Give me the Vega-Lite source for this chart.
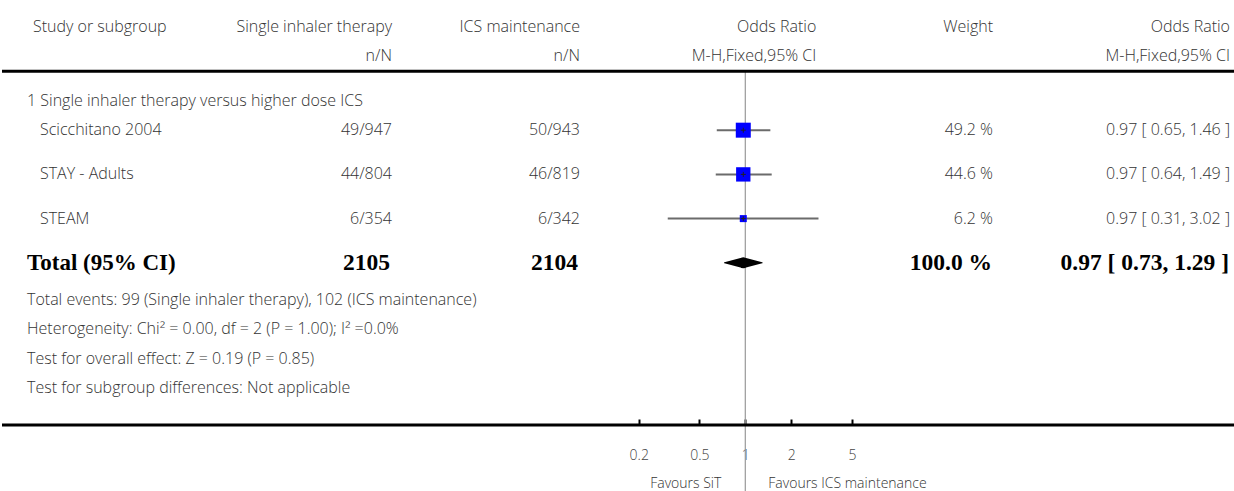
{
  "$schema": "https://vega.github.io/schema/vega-lite/v6.json",
  "padding": 0,
  "background": "white",
  "spacing": 0,
  "bounds": "flush",
  "config": {
    "view": {"stroke": null},
    "text": {"font": "Open Sans", "fontSize": 16, "fontWeight": 300, "color": "#333"},
    "concat": {"spacing": 0}
  },
  "datasets": {
    "studies": [
      {"row": "sc", "study": "Scicchitano 2004", "e1": 49, "n1": 947, "e2": 50, "n2": 943, "weight": 49.2, "est": 0.97, "lo": 0.65, "hi": 1.46},
      {"row": "stay", "study": "STAY - Adults", "e1": 44, "n1": 804, "e2": 46, "n2": 819, "weight": 44.6, "est": 0.97, "lo": 0.64, "hi": 1.49},
      {"row": "steam", "study": "STEAM", "e1": 6, "n1": 354, "e2": 6, "n2": 342, "weight": 6.2, "est": 0.97, "lo": 0.31, "hi": 3.02}
    ],
    "total": [
      {"row": "total", "label": "Total (95% CI)", "n1": 2105, "n2": 2104, "weight": 100.0, "est": 0.97, "lo": 0.73, "hi": 1.29}
    ],
    "headers": [
      {"col": "study", "row": "h1", "text": "Study or subgroup"},
      {"col": "sit", "row": "h1", "text": "Single inhaler therapy"},
      {"col": "sit", "row": "h2", "text": "n/N"},
      {"col": "ics", "row": "h1", "text": "ICS maintenance"},
      {"col": "ics", "row": "h2", "text": "n/N"},
      {"col": "plot", "row": "h1", "text": "Odds Ratio"},
      {"col": "plot", "row": "h2", "text": "M-H,Fixed,95% CI"},
      {"col": "weight", "row": "h1", "text": "Weight"},
      {"col": "or", "row": "h1", "text": "Odds Ratio"},
      {"col": "or", "row": "h2", "text": "M-H,Fixed,95% CI"}
    ],
    "notes": [
      {"row": "sub", "text": "1 Single inhaler therapy versus higher dose ICS"},
      {"row": "f1", "text": "Total events: 99 (Single inhaler therapy), 102 (ICS maintenance)"},
      {"row": "f2", "text": "Heterogeneity: Chi² = 0.00, df = 2 (P = 1.00); I² =0.0%"},
      {"row": "f3", "text": "Test for overall effect: Z = 0.19 (P = 0.85)"},
      {"row": "f4", "text": "Test for subgroup differences: Not applicable"}
    ],
    "lines": [{"row": "hline"}, {"row": "axis"}],
    "favours": [
      {"row": "fav", "side": "left", "text": "Favours SiT"},
      {"row": "fav", "side": "right", "text": "Favours ICS maintenance"}
    ]
  },
  "hconcat": [
    {
      "width": 210,
      "height": 491,
      "encoding": {"y": {"field": "row", "type": "nominal", "axis": null, "scale": {"type": "point", "round": false, "padding": 0.81, "align": 0.409, "domain": ["t1","t2","t3","h1","g1","g2","g3","h2","g5","hline","g7","g8","g9","sub","g11","g12","g13","sc","g15","g16","g17","g18","g19","stay","g21","g22","g23","g24","g25","steam","g27","g28","g29","g30","g31","total","g33","g34","g35","g36","f1","g38","g39","g40","f2","g42","g43","g44","f3","g46","g47","g48","f4","g50","g51","g52","g53","axis","g55","g56","g57","ticks","g59","g60","g61","fav"]}}},
      "layer": [
        {"data": {"name": "lines"}, "mark": {"type": "rule", "color": "black", "strokeWidth": 3}},
        {"data": {"name": "headers"}, "transform": [{"filter": "datum.col === 'study'"}], "mark": {"type": "text", "align": "left", "dx": 31},
         "encoding": {"x": {"datum": 0, "type": "quantitative", "scale": {"domain": [0, 1]}, "axis": null}, "text": {"field": "text"}}},
        {"data": {"name": "notes"}, "mark": {"type": "text", "align": "left", "dx": 25},
         "encoding": {"x": {"datum": 0, "type": "quantitative", "scale": {"domain": [0, 1]}, "axis": null}, "text": {"field": "text"}}},
        {"data": {"name": "studies"}, "mark": {"type": "text", "align": "left", "dx": 38},
         "encoding": {"x": {"datum": 0, "type": "quantitative", "scale": {"domain": [0, 1]}, "axis": null}, "text": {"field": "study"}}},
        {"data": {"name": "total"}, "mark": {"type": "text", "align": "left", "dx": 25, "font": "Liberation Serif", "fontWeight": "bold", "fontSize": 23, "color": "#000"},
         "encoding": {"x": {"datum": 0, "type": "quantitative", "scale": {"domain": [0, 1]}, "axis": null}, "text": {"field": "label"}}}
      ]
    },
    {
      "width": 180,
      "height": 491,
      "encoding": {"y": {"field": "row", "type": "nominal", "axis": null, "scale": {"type": "point", "round": false, "padding": 0.81, "align": 0.409, "domain": ["t1","t2","t3","h1","g1","g2","g3","h2","g5","hline","g7","g8","g9","sub","g11","g12","g13","sc","g15","g16","g17","g18","g19","stay","g21","g22","g23","g24","g25","steam","g27","g28","g29","g30","g31","total","g33","g34","g35","g36","f1","g38","g39","g40","f2","g42","g43","g44","f3","g46","g47","g48","f4","g50","g51","g52","g53","axis","g55","g56","g57","ticks","g59","g60","g61","fav"]}}},
      "layer": [
        {"data": {"name": "lines"}, "mark": {"type": "rule", "color": "black", "strokeWidth": 3}},
        {"data": {"name": "headers"}, "transform": [{"filter": "datum.col === 'sit'"}], "mark": {"type": "text", "align": "right"},
         "encoding": {"x": {"datum": 1, "type": "quantitative", "scale": {"domain": [0, 1]}, "axis": null}, "text": {"field": "text"}}},
        {"data": {"name": "studies"}, "transform": [{"calculate": "datum.e1 + '/' + datum.n1", "as": "nn"}], "mark": {"type": "text", "align": "right"},
         "encoding": {"x": {"datum": 1, "type": "quantitative", "scale": {"domain": [0, 1]}, "axis": null}, "text": {"field": "nn"}}},
        {"data": {"name": "total"}, "mark": {"type": "text", "align": "right", "dx": -2, "font": "Liberation Serif", "fontWeight": "bold", "fontSize": 23.5, "color": "#000"},
         "encoding": {"x": {"datum": 1, "type": "quantitative", "scale": {"domain": [0, 1]}, "axis": null}, "text": {"field": "n1"}}}
      ]
    },
    {
      "width": 188,
      "height": 491,
      "encoding": {"y": {"field": "row", "type": "nominal", "axis": null, "scale": {"type": "point", "round": false, "padding": 0.81, "align": 0.409, "domain": ["t1","t2","t3","h1","g1","g2","g3","h2","g5","hline","g7","g8","g9","sub","g11","g12","g13","sc","g15","g16","g17","g18","g19","stay","g21","g22","g23","g24","g25","steam","g27","g28","g29","g30","g31","total","g33","g34","g35","g36","f1","g38","g39","g40","f2","g42","g43","g44","f3","g46","g47","g48","f4","g50","g51","g52","g53","axis","g55","g56","g57","ticks","g59","g60","g61","fav"]}}},
      "layer": [
        {"data": {"name": "lines"}, "mark": {"type": "rule", "color": "black", "strokeWidth": 3}},
        {"data": {"name": "headers"}, "transform": [{"filter": "datum.col === 'ics'"}], "mark": {"type": "text", "align": "right"},
         "encoding": {"x": {"datum": 1, "type": "quantitative", "scale": {"domain": [0, 1]}, "axis": null}, "text": {"field": "text"}}},
        {"data": {"name": "studies"}, "transform": [{"calculate": "datum.e2 + '/' + datum.n2", "as": "nn"}], "mark": {"type": "text", "align": "right"},
         "encoding": {"x": {"datum": 1, "type": "quantitative", "scale": {"domain": [0, 1]}, "axis": null}, "text": {"field": "nn"}}},
        {"data": {"name": "total"}, "mark": {"type": "text", "align": "right", "dx": -2, "font": "Liberation Serif", "fontWeight": "bold", "fontSize": 23.5, "color": "#000"},
         "encoding": {"x": {"datum": 1, "type": "quantitative", "scale": {"domain": [0, 1]}, "axis": null}, "text": {"field": "n2"}}}
      ]
    },
    {
      "width": 331,
      "height": 491,
      "encoding": {"y": {"field": "row", "type": "nominal", "axis": null, "scale": {"type": "point", "round": false, "padding": 0.81, "align": 0.409, "domain": ["t1","t2","t3","h1","g1","g2","g3","h2","g5","hline","g7","g8","g9","sub","g11","g12","g13","sc","g15","g16","g17","g18","g19","stay","g21","g22","g23","g24","g25","steam","g27","g28","g29","g30","g31","total","g33","g34","g35","g36","f1","g38","g39","g40","f2","g42","g43","g44","f3","g46","g47","g48","f4","g50","g51","g52","g53","axis","g55","g56","g57","ticks","g59","g60","g61","fav"]}}},
      "layer": [
        {"data": {"name": "studies"}, "mark": {"type": "rule", "color": "#6b6b6b", "strokeWidth": 2},
         "encoding": {
           "x": {"field": "lo", "type": "quantitative", "scale": {"type": "log", "domain": [0.0824, 12.21]},
                 "axis": {"orient": "bottom", "offset": -66, "values": [0.2, 0.5, 1, 2, 5], "format": "~g", "title": null, "domain": false, "grid": false,
                          "ticks": true, "tickColor": "#000", "tickWidth": 2, "tickSize": -6, "labelFont": "Open Sans", "labelFontSize": 14, "labelFontWeight": 300,
                          "labelColor": "#444", "labelPadding": 29, "labelFlush": false, "labelOverlap": false}},
           "x2": {"field": "hi"}}},
        {"data": {"name": "lines"}, "transform": [{"filter": "datum.row === 'hline'"}], "mark": {"type": "rule", "color": "#999", "strokeWidth": 1.2},
         "encoding": {"x": {"datum": 1, "type": "quantitative", "scale": {"type": "log", "domain": [0.0824, 12.21]}}, "y2": {"value": "height"}}},
        {"data": {"name": "lines"}, "mark": {"type": "rule", "color": "black", "strokeWidth": 3}},
        {"data": {"name": "studies"}, "mark": {"type": "point", "shape": "square", "filled": true, "color": "#0000ff", "opacity": 1, "strokeWidth": 0},
         "encoding": {
           "x": {"field": "est", "type": "quantitative", "scale": {"type": "log", "domain": [0.0824, 12.21]}},
           "size": {"field": "weight", "type": "quantitative", "scale": {"domain": [0, 50], "range": [24, 228]}, "legend": null}}},
        {"data": {"name": "studies"}, "mark": {"type": "point", "shape": "M-1,0H1M0,-1V1", "filled": false, "stroke": "#222", "strokeWidth": 1, "opacity": 1, "size": 25},
         "encoding": {"x": {"field": "est", "type": "quantitative", "scale": {"type": "log", "domain": [0.0824, 12.21]}}}},
        {"data": {"name": "total"}, "transform": [{"fold": ["lo", "est", "hi"], "as": ["part", "val"]}], "mark": {"type": "trail", "color": "black"},
         "encoding": {
           "x": {"field": "val", "type": "quantitative", "scale": {"type": "log", "domain": [0.0824, 12.21]}},
           "order": {"field": "val", "type": "quantitative"},
           "size": {"field": "part", "type": "ordinal", "scale": {"type": "ordinal", "domain": ["lo", "est", "hi"], "range": [0, 11, 0]}, "legend": null}}},
        {"data": {"name": "headers"}, "transform": [{"filter": "datum.col === 'plot'"}], "mark": {"type": "text", "align": "right", "dx": 71},
         "encoding": {"x": {"datum": 1, "type": "quantitative", "scale": {"type": "log", "domain": [0.0824, 12.21]}}, "text": {"field": "text"}}},
        {"data": {"name": "favours"}, "transform": [{"filter": "datum.side === 'left'"}], "mark": {"type": "text", "align": "right", "dx": -24, "fontSize": 14},
         "encoding": {"x": {"datum": 1, "type": "quantitative", "scale": {"type": "log", "domain": [0.0824, 12.21]}}, "text": {"field": "text"}}},
        {"data": {"name": "favours"}, "transform": [{"filter": "datum.side === 'right'"}], "mark": {"type": "text", "align": "left", "dx": 23, "fontSize": 14},
         "encoding": {"x": {"datum": 1, "type": "quantitative", "scale": {"type": "log", "domain": [0.0824, 12.21]}}, "text": {"field": "text"}}}
      ]
    },
    {
      "width": 82,
      "height": 491,
      "encoding": {"y": {"field": "row", "type": "nominal", "axis": null, "scale": {"type": "point", "round": false, "padding": 0.81, "align": 0.409, "domain": ["t1","t2","t3","h1","g1","g2","g3","h2","g5","hline","g7","g8","g9","sub","g11","g12","g13","sc","g15","g16","g17","g18","g19","stay","g21","g22","g23","g24","g25","steam","g27","g28","g29","g30","g31","total","g33","g34","g35","g36","f1","g38","g39","g40","f2","g42","g43","g44","f3","g46","g47","g48","f4","g50","g51","g52","g53","axis","g55","g56","g57","ticks","g59","g60","g61","fav"]}}},
      "layer": [
        {"data": {"name": "lines"}, "mark": {"type": "rule", "color": "black", "strokeWidth": 3}},
        {"data": {"name": "headers"}, "transform": [{"filter": "datum.col === 'weight'"}], "mark": {"type": "text", "align": "right"},
         "encoding": {"x": {"datum": 1, "type": "quantitative", "scale": {"domain": [0, 1]}, "axis": null}, "text": {"field": "text"}}},
        {"data": {"name": "studies"}, "transform": [{"calculate": "format(datum.weight, '.1f') + ' %'", "as": "wt"}], "mark": {"type": "text", "align": "right"},
         "encoding": {"x": {"datum": 1, "type": "quantitative", "scale": {"domain": [0, 1]}, "axis": null}, "text": {"field": "wt"}}},
        {"data": {"name": "total"}, "transform": [{"calculate": "format(datum.weight, '.1f') + ' %'", "as": "wt"}], "mark": {"type": "text", "align": "right", "dx": -1, "font": "Liberation Serif", "fontWeight": "bold", "fontSize": 23.5, "color": "#000"},
         "encoding": {"x": {"datum": 1, "type": "quantitative", "scale": {"domain": [0, 1]}, "axis": null}, "text": {"field": "wt"}}}
      ]
    },
    {
      "width": 243,
      "height": 491,
      "encoding": {"y": {"field": "row", "type": "nominal", "axis": null, "scale": {"type": "point", "round": false, "padding": 0.81, "align": 0.409, "domain": ["t1","t2","t3","h1","g1","g2","g3","h2","g5","hline","g7","g8","g9","sub","g11","g12","g13","sc","g15","g16","g17","g18","g19","stay","g21","g22","g23","g24","g25","steam","g27","g28","g29","g30","g31","total","g33","g34","g35","g36","f1","g38","g39","g40","f2","g42","g43","g44","f3","g46","g47","g48","f4","g50","g51","g52","g53","axis","g55","g56","g57","ticks","g59","g60","g61","fav"]}}},
      "layer": [
        {"data": {"name": "lines"}, "mark": {"type": "rule", "color": "black", "strokeWidth": 3}},
        {"data": {"name": "headers"}, "transform": [{"filter": "datum.col === 'or'"}], "mark": {"type": "text", "align": "right", "dx": -6},
         "encoding": {"x": {"datum": 1, "type": "quantitative", "scale": {"domain": [0, 1]}, "axis": null}, "text": {"field": "text"}}},
        {"data": {"name": "studies"}, "transform": [{"calculate": "format(datum.est, '.2f') + ' [ ' + format(datum.lo, '.2f') + ', ' + format(datum.hi, '.2f') + ' ]'", "as": "ci"}], "mark": {"type": "text", "align": "right", "dx": -6},
         "encoding": {"x": {"datum": 1, "type": "quantitative", "scale": {"domain": [0, 1]}, "axis": null}, "text": {"field": "ci"}}},
        {"data": {"name": "total"}, "transform": [{"calculate": "format(datum.est, '.2f') + ' [ ' + format(datum.lo, '.2f') + ', ' + format(datum.hi, '.2f') + ' ]'", "as": "ci"}], "mark": {"type": "text", "align": "right", "dx": -7, "font": "Liberation Serif", "fontWeight": "bold", "fontSize": 23.5, "color": "#000"},
         "encoding": {"x": {"datum": 1, "type": "quantitative", "scale": {"domain": [0, 1]}, "axis": null}, "text": {"field": "ci"}}}
      ]
    }
  ]
}
